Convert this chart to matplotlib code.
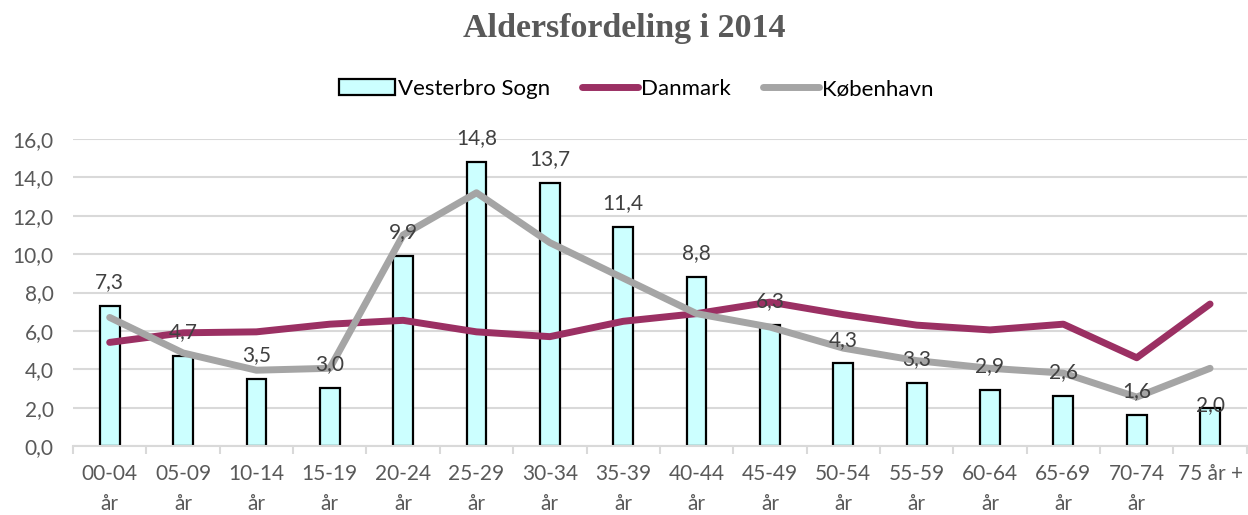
import matplotlib
matplotlib.use("Agg")
import matplotlib.pyplot as plt
from matplotlib.ticker import FuncFormatter, FixedLocator

# data
categories = ["00-04\når", "05-09\når", "10-14\når", "15-19\når", "20-24\når", "25-29\når",
              "30-34\når", "35-39\når", "40-44\når", "45-49\når", "50-54\når", "55-59\når",
              "60-64\når", "65-69\når", "70-74\når", "75 år +"]
vesterbro = [7.3, 4.7, 3.5, 3.0, 9.9, 14.8, 13.7, 11.4, 8.8, 6.3, 4.3, 3.3, 2.9, 2.6, 1.6, 2.0]
danmark = [5.4, 5.9, 5.95, 6.35, 6.55, 5.95, 5.7, 6.5, 6.9, 7.5, 6.85, 6.3, 6.05, 6.35, 4.6, 7.4]
koebenhavn = [6.7, 4.85, 3.95, 4.05, 11.0, 13.2, 10.6, 8.75, 6.9, 6.2, 5.1, 4.45, 4.05, 3.8, 2.55, 4.05]

font = "Lato"
txt_grey = "#595959"

fig = plt.figure(figsize=(12.48, 5.15), dpi=100)
ax = fig.add_axes([0.0585, 0.134, 0.9405, 0.596])

x = list(range(len(categories)))
bars = ax.bar(x, vesterbro, width=0.27, color="#CCFFFF", edgecolor="black", linewidth=1.6,
              label="Vesterbro Sogn", zorder=2)
l1, = ax.plot(x, danmark, color="#9B3063", linewidth=5, solid_capstyle="round",
              solid_joinstyle="round", label="Danmark", zorder=3)
l2, = ax.plot(x, koebenhavn, color="#A5A5A5", linewidth=5, solid_capstyle="round",
              solid_joinstyle="round", label="København", zorder=3)

# data labels; the last one sits on the bar top like in the original
for xi, v in zip(x, vesterbro):
    last = xi == len(x) - 1
    ax.annotate(f"{v:.1f}".replace(".", ","), (xi, v), xytext=(0, 2 if last else 10),
                textcoords="offset points", ha="center", va="center" if last else "bottom",
                fontsize=15, color="#404040", family=font, zorder=5)

ax.set_xlim(-0.5, len(categories) - 0.5)
ax.set_ylim(0, 16)
ax.set_yticks(range(0, 17, 2))
ax.yaxis.set_major_formatter(FuncFormatter(lambda v, p: f"{v:.1f}".replace(".", ",")))
ax.set_xticks(x)
ax.set_xticklabels(categories, linespacing=1.6)
ax.xaxis.set_minor_locator(FixedLocator([i - 0.5 for i in range(len(categories) + 1)]))
ax.tick_params(axis="x", which="major", length=0, pad=13)
ax.tick_params(axis="x", which="minor", length=6, color="#D9D9D9", width=1.5)
ax.tick_params(axis="y", length=0, pad=14)
for lbl in ax.get_xticklabels() + ax.get_yticklabels():
    lbl.set_fontsize(15)
    lbl.set_color(txt_grey)
    lbl.set_family(font)

ax.grid(axis="y", color="#D9D9D9", linewidth=1.5, zorder=0)
ax.set_axisbelow(True)
for side in ["top", "right", "left"]:
    ax.spines[side].set_visible(False)
ax.spines["bottom"].set_color("#D9D9D9")
ax.spines["bottom"].set_linewidth(1.5)

fig.text(0.5, (515 - 28) / 515, "Aldersfordeling i 2014", ha="center", va="center",
         fontsize=24.5, fontweight="bold", color=txt_grey, family="Liberation Serif")

fig.legend(handles=[bars, l1, l2], loc="center", bbox_to_anchor=(0.51, (515 - 89) / 515),
           ncol=3, frameon=False, prop={"family": font, "size": 16}, handlelength=2.5,
           handletextpad=0.15, columnspacing=1.45)

fig.savefig("out.png", dpi=100)
